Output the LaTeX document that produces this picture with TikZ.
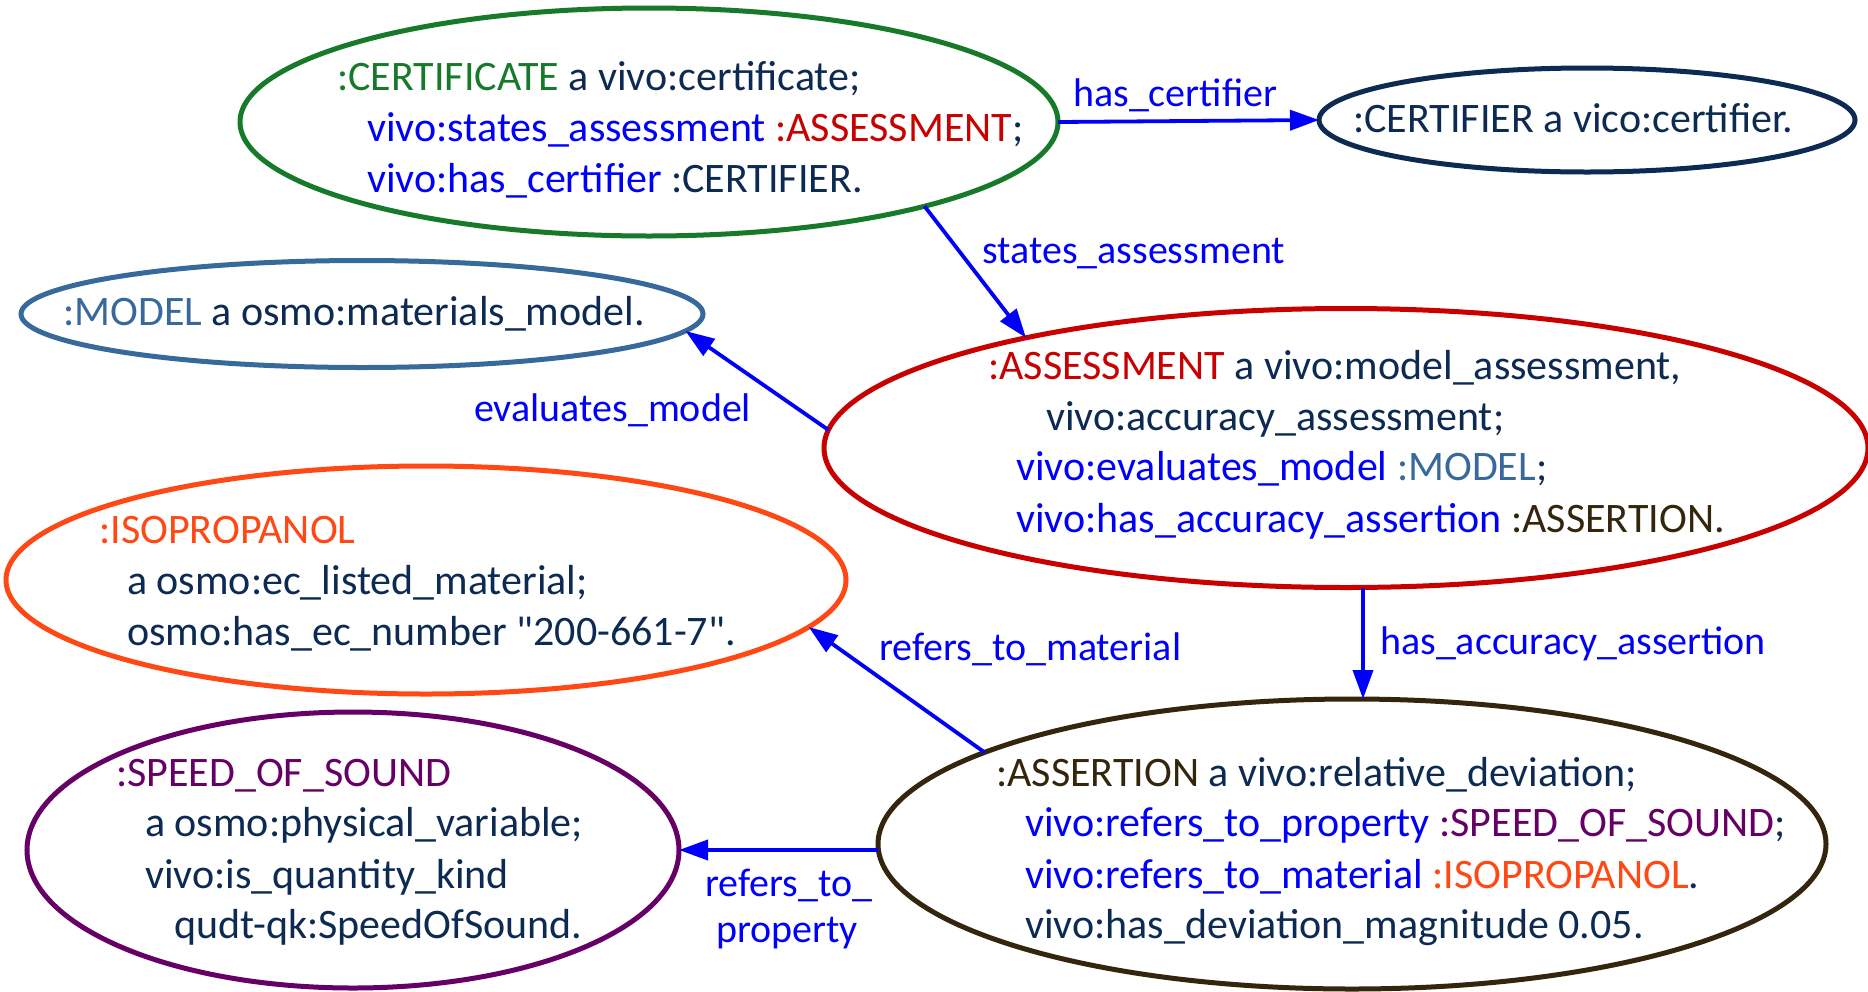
\documentclass[tikz,border=0pt]{standalone}
\usepackage{fontspec}
\setmainfont{Carlito}
\newfontfamily\qfont{Carlito}[Ligatures=TeXOff]
\usetikzlibrary{arrows.meta,shapes.geometric}
\definecolor{cgreen}{RGB}{22,122,42}
\definecolor{cnavy}{RGB}{12,42,82}
\definecolor{cblue}{RGB}{0,0,250}
\definecolor{cred}{RGB}{200,0,0}
\definecolor{cmodel}{RGB}{55,105,155}
\definecolor{corange}{RGB}{255,72,20}
\definecolor{cbrown}{RGB}{52,38,12}
\definecolor{cpurple}{RGB}{102,0,102}
\begin{document}
\begin{tikzpicture}[x=1pt,y=-1pt,
  ell/.style={ellipse, draw, line width=5pt, inner sep=0pt, outer sep=0pt},
  txt/.style={anchor=base west, inner sep=0pt, text=cnavy, font=\fontsize{42}{50}\selectfont},
  lbl/.style={anchor=base west, inner sep=0pt, text=cblue, font=\fontsize{40}{48}\selectfont},
  arr/.style={draw=cblue, line width=3.8pt, -{Triangle[length=29pt,width=20pt]}}]
\useasboundingbox (0,0) rectangle (1868,991);
% ellipses
\node[ell, draw=cgreen, minimum width=818pt, minimum height=228pt] (cert) at (649,122) {};
\node[ell, draw=cnavy, minimum width=536pt, minimum height=104pt] (certifier) at (1587,120) {};
\node[ell, draw=cmodel, minimum width=682pt, minimum height=107pt] (model) at (362,314) {};
\node[ell, draw=cred, minimum width=1044pt, minimum height=279pt] (assess) at (1346,448) {};
\node[ell, draw=corange, minimum width=840pt, minimum height=228pt] (iso) at (426,580) {};
\node[ell, draw=cbrown, minimum width=948pt, minimum height=290pt] (assertion) at (1352,844) {};
\node[ell, draw=cpurple, minimum width=652pt, minimum height=276pt] (speed) at (353,850) {};
% connectors
\draw[arr] (cert.east) -- (certifier.west);
\draw[arr] (cert.-17.3) -- (assess.161);
\draw[arr] (assess.178.1) -- (model.-3.2);
\draw[arr] ([xshift=17pt]assess.south) -- ([xshift=11pt]assertion.north);
\draw[arr] (assertion.166) -- (iso.-7);
\draw[arr] (assertion.west |- speed.east) -- (speed.east);
% connector labels
\node[lbl] (l1) at (1073,106) {has\_certifier};
\node[lbl] (l2) at (982,263) {states\_assessment};
\node[lbl] (l3) at (474,421) {evaluates\_model};
\node[lbl] (l4) at (1380,654) {has\_accuracy\_assertion};
\node[lbl] (l5) at (879,660) {refers\_to\_material};
\node[lbl] (l6a) at (705,896) {refers\_to\_};
\node[lbl] (l6b) at (716,942) {property};
% certificate text
\node[txt] (c1) at (337,90) {{\color{cgreen}:CERTIFICATE} a vivo:certificate;};
\node[txt] (c2) at (367,141) {{\color{cblue}vivo:states\_assessment} {\color{cred}:ASSESSMENT};};
\node[txt] (c3) at (367,192) {{\color{cblue}vivo:has\_certifier} :CERTIFIER.};
% certifier text
\node[txt] (r1) at (1353,132) {:CERTIFIER a vico:certifier.};
% model text
\node[txt] (m1) at (63,325) {{\color{cmodel}:MODEL} a osmo:materials\_model.};
% assessment text
\node[txt] (a1) at (988,379) {{\color{cred}:ASSESSMENT} a vivo:model\_assessment,};
\node[txt] (a2) at (1046,430) {vivo:accuracy\_assessment;};
\node[txt] (a3) at (1016,480) {{\color{cblue}vivo:evaluates\_model} {\color{cmodel}:MODEL};};
\node[txt] (a4) at (1016,532) {{\color{cblue}vivo:has\_accuracy\_assertion} {\color{cbrown}:ASSERTION.}};
% isopropanol text
\node[txt] (i1) at (99,543) {{\color{corange}:ISOPROPANOL}};
\node[txt] (i2) at (127,594) {a osmo:ec\_listed\_material;};
\node[txt] (i3) at (127,645) {osmo:has\_ec\_number {\qfont"}200-661-7{\qfont"}.};
% assertion text
\node[txt] (s1) at (996,786) {{\color{cbrown}:ASSERTION} a vivo:relative\_deviation;};
\node[txt] (s2) at (1025,836) {{\color{cblue}vivo:refers\_to\_property} {\color{cpurple}:SPEED\_OF\_SOUND};};
\node[txt] (s3) at (1025,888) {{\color{cblue}vivo:refers\_to\_material} {\color{corange}:ISOPROPANOL}.};
\node[txt] (s4) at (1025,938) {vivo:has\_deviation\_magnitude 0.05.};
% speed text
\node[txt] (p1) at (116,786) {{\color{cpurple}:SPEED\_OF\_SOUND}};
\node[txt] (p2) at (145,836) {a osmo:physical\_variable;};
\node[txt] (p3) at (145,888) {vivo:is\_quantity\_kind};
\node[txt] (p4) at (174,938) {qudt-qk:SpeedOfSound.};
\end{tikzpicture}
\end{document}
